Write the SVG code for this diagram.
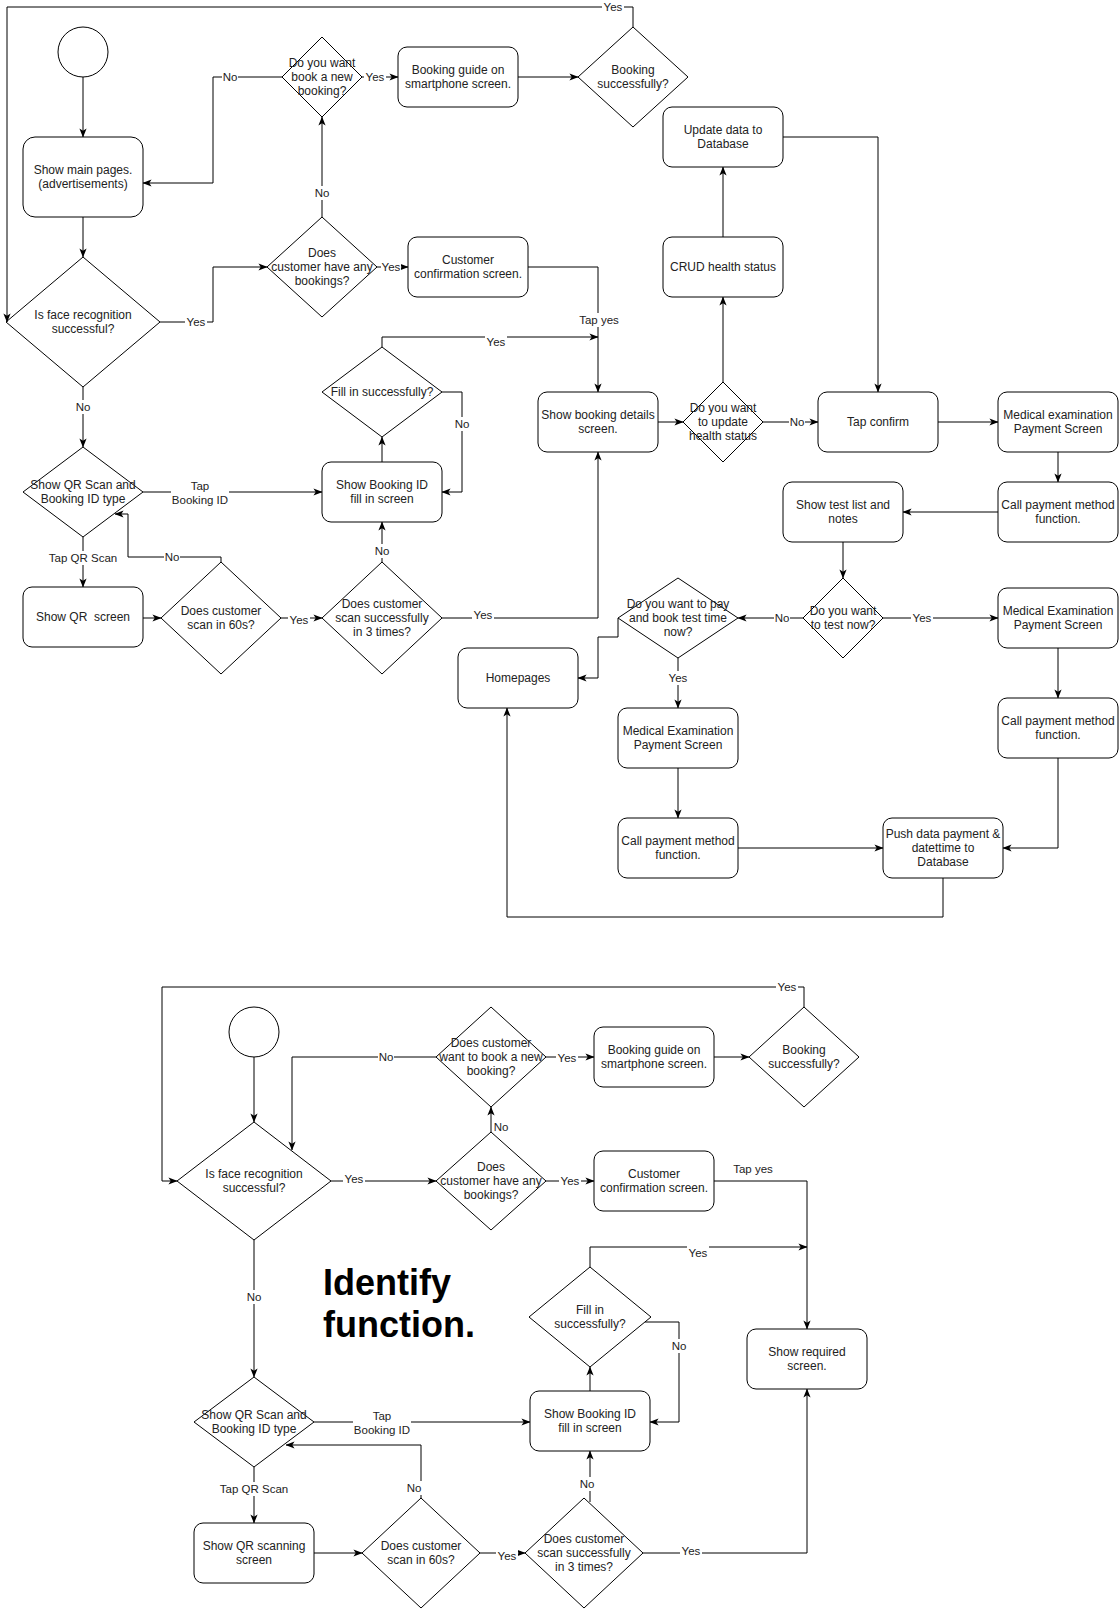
<svg xmlns="http://www.w3.org/2000/svg" width="1119" height="1609" viewBox="0 0 1119 1609">
<defs>
<marker id="arr" viewBox="0 0 10 8" refX="9.5" refY="4" markerWidth="9" markerHeight="7.2" markerUnits="userSpaceOnUse" orient="auto">
<path d="M0,0 L10,4 L0,8 L2.5,4 z" fill="#000"/>
</marker>
<style>
.n{fill:#fff;stroke:#000;stroke-width:1}
.t{font-family:"Liberation Sans",Arial,sans-serif;font-size:12px;fill:#222;text-anchor:middle}
.e{fill:none;stroke:#000;stroke-width:1}
.ea{fill:none;stroke:#000;stroke-width:1;marker-end:url(#arr)}
.l{font-family:"Liberation Sans",Arial,sans-serif;font-size:11.5px;fill:#222;text-anchor:middle}
.lb{fill:#fff}
.big{font-family:"Liberation Sans",Arial,sans-serif;font-size:36px;font-weight:bold;fill:#000}
</style>
</defs>
<rect width="1119" height="1609" fill="#fff"/>

<!-- ===== TOP DIAGRAM NODES ===== -->
<g id="start1"><circle class="n" cx="83" cy="52" r="25"/></g>
<g id="mainPages"><rect class="n" x="23" y="137" width="120" height="80" rx="12"/><text class="t" x="83" y="174">Show main pages.</text><text class="t" x="83" y="188">(advertisements)</text></g>
<g id="face1"><polygon class="n" points="83,257 160,322 83,387 6,322"/><text class="t" x="83" y="319">Is face recognition</text><text class="t" x="83" y="333">successful?</text></g>
<g id="newBooking1"><polygon class="n" points="322,37 362,77 322,117 282,77"/><text class="t" x="322" y="67">Do you want</text><text class="t" x="322" y="81">book a new</text><text class="t" x="322" y="95">booking?</text></g>
<g id="guide1"><rect class="n" x="398" y="47" width="120" height="60" rx="9"/><text class="t" x="458" y="74">Booking guide on</text><text class="t" x="458" y="88">smartphone screen.</text></g>
<g id="success1"><polygon class="n" points="633,27 688,77 633,127 578,77"/><text class="t" x="633" y="74">Booking</text><text class="t" x="633" y="88">successfully?</text></g>
<g id="hasBookings1"><polygon class="n" points="322,217 377,267 322,317 267,267"/><text class="t" x="322" y="257">Does</text><text class="t" x="322" y="271">customer have any</text><text class="t" x="322" y="285">bookings?</text></g>
<g id="confirm1"><rect class="n" x="408" y="237" width="120" height="60" rx="9"/><text class="t" x="468" y="264">Customer</text><text class="t" x="468" y="278">confirmation screen.</text></g>
<g id="updateData"><rect class="n" x="663" y="107" width="120" height="60" rx="9"/><text class="t" x="723" y="134">Update data to</text><text class="t" x="723" y="148">Database</text></g>
<g id="crud"><rect class="n" x="663" y="237" width="120" height="60" rx="9"/><text class="t" x="723" y="271">CRUD health status</text></g>
<g id="details"><rect class="n" x="538" y="392" width="120" height="60" rx="9"/><text class="t" x="598" y="419">Show booking details</text><text class="t" x="598" y="433">screen.</text></g>
<g id="updateQ"><polygon class="n" points="723,382 763,422 723,462 683,422"/><text class="t" x="723" y="412">Do you want</text><text class="t" x="723" y="426">to update</text><text class="t" x="723" y="440">health status</text></g>
<g id="tapConfirm"><rect class="n" x="818" y="392" width="120" height="60" rx="9"/><text class="t" x="878" y="426">Tap confirm</text></g>
<g id="med1"><rect class="n" x="998" y="392" width="120" height="60" rx="9"/><text class="t" x="1058" y="419">Medical examination</text><text class="t" x="1058" y="433">Payment Screen</text></g>
<g id="call1"><rect class="n" x="998" y="482" width="120" height="60" rx="9"/><text class="t" x="1058" y="509">Call payment method</text><text class="t" x="1058" y="523">function.</text></g>
<g id="testList"><rect class="n" x="783" y="482" width="120" height="60" rx="9"/><text class="t" x="843" y="509">Show test list and</text><text class="t" x="843" y="523">notes</text></g>
<g id="testNow"><polygon class="n" points="843,578 883,618 843,658 803,618"/><text class="t" x="843" y="615">Do you want</text><text class="t" x="843" y="629">to test now?</text></g>
<g id="med2"><rect class="n" x="998" y="588" width="120" height="60" rx="9"/><text class="t" x="1058" y="615">Medical Examination</text><text class="t" x="1058" y="629">Payment Screen</text></g>
<g id="call2"><rect class="n" x="998" y="698" width="120" height="60" rx="9"/><text class="t" x="1058" y="725">Call payment method</text><text class="t" x="1058" y="739">function.</text></g>
<g id="payQ"><polygon class="n" points="678,578 738,618 678,658 618,618"/><text class="t" x="678" y="608">Do you want to pay</text><text class="t" x="678" y="622">and book test time</text><text class="t" x="678" y="636">now?</text></g>
<g id="homepages"><rect class="n" x="458" y="648" width="120" height="60" rx="9"/><text class="t" x="518" y="682">Homepages</text></g>
<g id="med3"><rect class="n" x="618" y="708" width="120" height="60" rx="9"/><text class="t" x="678" y="735">Medical Examination</text><text class="t" x="678" y="749">Payment Screen</text></g>
<g id="call3"><rect class="n" x="618" y="818" width="120" height="60" rx="9"/><text class="t" x="678" y="845">Call payment method</text><text class="t" x="678" y="859">function.</text></g>
<g id="pushData"><rect class="n" x="883" y="818" width="120" height="60" rx="9"/><text class="t" x="943" y="838">Push data payment &amp;</text><text class="t" x="943" y="852">datettime to</text><text class="t" x="943" y="866">Database</text></g>
<g id="fill1"><polygon class="n" points="382,347 442,392 382,437 322,392"/><text class="t" x="382" y="396">Fill in successfully?</text></g>
<g id="bookId1"><rect class="n" x="322" y="462" width="120" height="60" rx="9"/><text class="t" x="382" y="489">Show Booking ID</text><text class="t" x="382" y="503">fill in screen</text></g>
<g id="qr1"><polygon class="n" points="83,447 143,492 83,537 23,492"/><text class="t" x="83" y="489">Show QR Scan and</text><text class="t" x="83" y="503">Booking ID type</text></g>
<g id="qrScreen1"><rect class="n" x="23" y="587" width="120" height="60" rx="9"/><text class="t" x="83" y="621" xml:space="preserve">Show QR  screen</text></g>
<g id="scan60_1"><polygon class="n" points="221,562 281,618 221,674 161,618"/><text class="t" x="221" y="615">Does customer</text><text class="t" x="221" y="629">scan in 60s?</text></g>
<g id="scan3_1"><polygon class="n" points="382,562 442,618 382,674 322,618"/><text class="t" x="382" y="608">Does customer</text><text class="t" x="382" y="622">scan successfully</text><text class="t" x="382" y="636">in 3 times?</text></g>

<!-- ===== BOTTOM DIAGRAM NODES ===== -->
<g id="start2"><circle class="n" cx="254" cy="1032" r="25"/></g>
<g id="face2"><polygon class="n" points="254,1122 331,1181 254,1240 177,1181"/><text class="t" x="254" y="1178">Is face recognition</text><text class="t" x="254" y="1192">successful?</text></g>
<g id="newBooking2"><polygon class="n" points="491,1007 546,1057 491,1107 436,1057"/><text class="t" x="491" y="1047">Does customer</text><text class="t" x="491" y="1061">want to book a new</text><text class="t" x="491" y="1075">booking?</text></g>
<g id="hasBookings2"><polygon class="n" points="491,1132 546,1181 491,1230 436,1181"/><text class="t" x="491" y="1171">Does</text><text class="t" x="491" y="1185">customer have any</text><text class="t" x="491" y="1199">bookings?</text></g>
<g id="guide2"><rect class="n" x="594" y="1027" width="120" height="60" rx="9"/><text class="t" x="654" y="1054">Booking guide on</text><text class="t" x="654" y="1068">smartphone screen.</text></g>
<g id="success2"><polygon class="n" points="804,1007 859,1057 804,1107 749,1057"/><text class="t" x="804" y="1054">Booking</text><text class="t" x="804" y="1068">successfully?</text></g>
<g id="confirm2"><rect class="n" x="594" y="1151" width="120" height="60" rx="9"/><text class="t" x="654" y="1178">Customer</text><text class="t" x="654" y="1192">confirmation screen.</text></g>
<g id="required"><rect class="n" x="747" y="1329" width="120" height="60" rx="9"/><text class="t" x="807" y="1356">Show required</text><text class="t" x="807" y="1370">screen.</text></g>
<g id="fill2"><polygon class="n" points="590,1267 651,1317 590,1367 529,1317"/><text class="t" x="590" y="1314">Fill in</text><text class="t" x="590" y="1328">successfully?</text></g>
<g id="bookId2"><rect class="n" x="530" y="1391" width="120" height="60" rx="9"/><text class="t" x="590" y="1418">Show Booking ID</text><text class="t" x="590" y="1432">fill in screen</text></g>
<g id="qr2"><polygon class="n" points="254,1377 314,1422 254,1467 194,1422"/><text class="t" x="254" y="1419">Show QR Scan and</text><text class="t" x="254" y="1433">Booking ID type</text></g>
<g id="qrScan2"><rect class="n" x="194" y="1523" width="120" height="60" rx="9"/><text class="t" x="254" y="1550">Show QR scanning</text><text class="t" x="254" y="1564">screen</text></g>
<g id="scan60_2"><polygon class="n" points="421,1498 480,1553 421,1608 362,1553"/><text class="t" x="421" y="1550">Does customer</text><text class="t" x="421" y="1564">scan in 60s?</text></g>
<g id="scan3_2"><polygon class="n" points="584,1498 643,1553 584,1608 525,1553"/><text class="t" x="584" y="1543">Does customer</text><text class="t" x="584" y="1557">scan successfully</text><text class="t" x="584" y="1571">in 3 times?</text></g>
<g id="title"><text class="big" x="323" y="1295">Identify</text><text class="big" x="323" y="1337">function.</text></g>

<!-- ===== CONNECTORS ===== -->
<g id="connectors">
<path class="ea" d="M83,77 V137"/>
<path class="ea" d="M83,217 V257"/>
<path class="ea" d="M160,322 H213 V267 H267"/>
<path class="ea" d="M322,217 V117"/>
<path class="ea" d="M282,77 H213 V183 H143"/>
<path class="ea" d="M362,77 H398"/>
<path class="ea" d="M518,77 H578"/>
<path class="ea" d="M633,27 V7 H7 V322"/>
<path class="ea" d="M377,267 H408"/>
<path class="ea" d="M528,267 H598 V392"/>
<path class="ea" d="M382,347 V337 H598"/>
<path class="ea" d="M442,392 H462 V492 H442"/>
<path class="ea" d="M382,462 V437"/>
<path class="ea" d="M143,492 H322"/>
<path class="ea" d="M83,387 V447"/>
<path class="ea" d="M83,537 V587"/>
<path class="ea" d="M143,618 H161"/>
<path class="ea" d="M281,618 H322"/>
<path class="ea" d="M221,562 V557 H128 V514 H115"/>
<path class="ea" d="M382,562 V522"/>
<path class="ea" d="M442,618 H598 V452"/>
<path class="ea" d="M658,422 H683"/>
<path class="ea" d="M723,382 V297"/>
<path class="ea" d="M723,237 V167"/>
<path class="ea" d="M763,422 H818"/>
<path class="ea" d="M783,137 H878 V392"/>
<path class="ea" d="M938,422 H998"/>
<path class="ea" d="M1058,452 V482"/>
<path class="ea" d="M998,512 H903"/>
<path class="ea" d="M843,542 V578"/>
<path class="ea" d="M883,618 H998"/>
<path class="ea" d="M803,618 H738"/>
<path class="ea" d="M618,618 V637 H598 V678 H578"/>
<path class="ea" d="M678,658 V708"/>
<path class="ea" d="M678,768 V818"/>
<path class="ea" d="M738,848 H883"/>
<path class="ea" d="M1058,648 V698"/>
<path class="ea" d="M1058,758 V848 H1003"/>
<path class="ea" d="M943,878 V917 H507 V708"/>

<path class="ea" d="M254,1057 V1122"/>
<path class="ea" d="M804,1007 V987 H162 V1181 H177"/>
<path class="ea" d="M331,1181 H436"/>
<path class="ea" d="M491,1132 V1107"/>
<path class="ea" d="M436,1057 H292 V1150"/>
<path class="ea" d="M546,1057 H594"/>
<path class="ea" d="M714,1057 H749"/>
<path class="ea" d="M546,1181 H594"/>
<path class="ea" d="M714,1181 H807 V1329"/>
<path class="ea" d="M590,1267 V1247 H807"/>
<path class="ea" d="M645,1322 H679 V1422 H650"/>
<path class="ea" d="M590,1391 V1367"/>
<path class="ea" d="M314,1422 H530"/>
<path class="ea" d="M254,1240 V1377"/>
<path class="ea" d="M254,1467 V1523"/>
<path class="ea" d="M314,1553 H362"/>
<path class="ea" d="M480,1553 H525"/>
<path class="ea" d="M421,1498 V1445 H286"/>
<path class="ea" d="M590,1502 V1451"/>
<path class="ea" d="M643,1553 H807 V1389"/>

<!-- labels top -->
<rect class="lb" x="185" y="315" width="22" height="14"/><text class="l" x="196" y="326">Yes</text>
<rect class="lb" x="314" y="186" width="16" height="14"/><text class="l" x="322" y="197">No</text>
<rect class="lb" x="222" y="70" width="16" height="14"/><text class="l" x="230" y="81">No</text>
<rect class="lb" x="364" y="70" width="22" height="14"/><text class="l" x="375" y="81">Yes</text>
<rect class="lb" x="602" y="0" width="22" height="14"/><text class="l" x="613" y="11">Yes</text>
<rect class="lb" x="381" y="260" width="20" height="14"/><text class="l" x="391" y="271">Yes</text>
<rect class="lb" x="579" y="313" width="40" height="14"/><text class="l" x="599" y="324">Tap yes</text>
<rect class="lb" x="485" y="335" width="22" height="14"/><text class="l" x="496" y="346">Yes</text>
<rect class="lb" x="454" y="417" width="16" height="14"/><text class="l" x="462" y="428">No</text>
<rect class="lb" x="171" y="479" width="58" height="28"/><text class="l" x="200" y="490">Tap</text><text class="l" x="200" y="504">Booking ID</text>
<rect class="lb" x="75" y="400" width="16" height="14"/><text class="l" x="83" y="411">No</text>
<rect class="lb" x="48" y="551" width="70" height="14"/><text class="l" x="83" y="562">Tap QR Scan</text>
<rect class="lb" x="288" y="613" width="22" height="14"/><text class="l" x="299" y="624">Yes</text>
<rect class="lb" x="164" y="550" width="16" height="14"/><text class="l" x="172" y="561">No</text>
<rect class="lb" x="374" y="544" width="16" height="14"/><text class="l" x="382" y="555">No</text>
<rect class="lb" x="472" y="608" width="22" height="14"/><text class="l" x="483" y="619">Yes</text>
<rect class="lb" x="789" y="415" width="16" height="14"/><text class="l" x="797" y="426">No</text>
<rect class="lb" x="911" y="611" width="22" height="14"/><text class="l" x="922" y="622">Yes</text>
<rect class="lb" x="774" y="611" width="16" height="14"/><text class="l" x="782" y="622">No</text>
<rect class="lb" x="667" y="671" width="22" height="14"/><text class="l" x="678" y="682">Yes</text>

<!-- labels bottom -->
<rect class="lb" x="776" y="980" width="22" height="14"/><text class="l" x="787" y="991">Yes</text>
<rect class="lb" x="343" y="1172" width="22" height="14"/><text class="l" x="354" y="1183">Yes</text>
<text class="l" x="501" y="1131">No</text>
<rect class="lb" x="378" y="1050" width="16" height="14"/><text class="l" x="386" y="1061">No</text>
<rect class="lb" x="556" y="1051" width="22" height="14"/><text class="l" x="567" y="1062">Yes</text>
<rect class="lb" x="559" y="1174" width="22" height="14"/><text class="l" x="570" y="1185">Yes</text>
<text class="l" x="753" y="1173">Tap yes</text>
<rect class="lb" x="687" y="1245" width="22" height="14"/><text class="l" x="698" y="1257">Yes</text>
<rect class="lb" x="671" y="1339" width="16" height="14"/><text class="l" x="679" y="1350">No</text>
<rect class="lb" x="353" y="1409" width="58" height="28"/><text class="l" x="382" y="1420">Tap</text><text class="l" x="382" y="1434">Booking ID</text>
<rect class="lb" x="246" y="1290" width="16" height="14"/><text class="l" x="254" y="1301">No</text>
<rect class="lb" x="219" y="1482" width="70" height="14"/><text class="l" x="254" y="1493">Tap QR Scan</text>
<rect class="lb" x="496" y="1549" width="22" height="14"/><text class="l" x="507" y="1560">Yes</text>
<rect class="lb" x="406" y="1481" width="16" height="14"/><text class="l" x="414" y="1492">No</text>
<rect class="lb" x="579" y="1477" width="16" height="14"/><text class="l" x="587" y="1488">No</text>
<rect class="lb" x="680" y="1544" width="22" height="14"/><text class="l" x="691" y="1555">Yes</text>
</g>
</svg>
